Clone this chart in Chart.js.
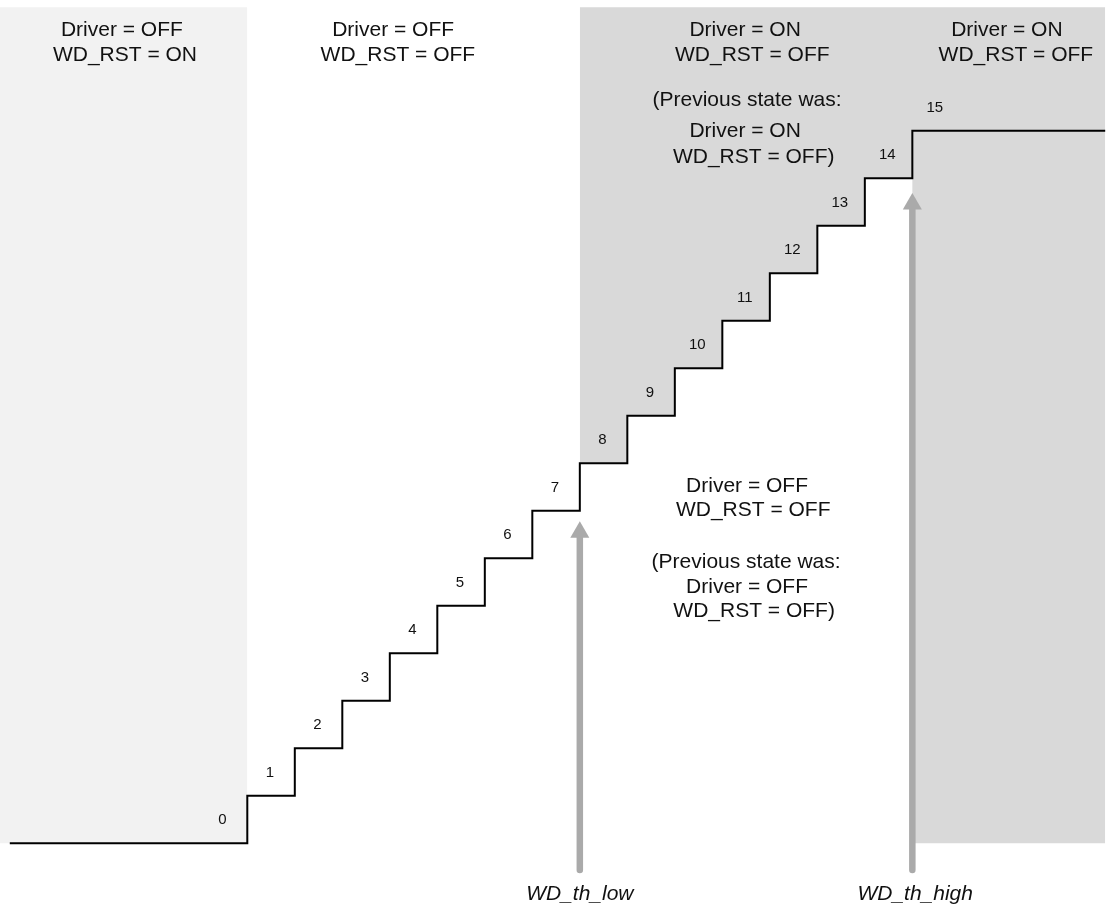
<!DOCTYPE html>
<html>
<head>
<meta charset="utf-8">
<title>WD counter states</title>
<script src="https://cdn.jsdelivr.net/npm/chart.js@4.4.1/dist/chart.umd.min.js"></script>
<style>
  html, body { margin: 0; padding: 0; background: #ffffff; }
  #chart { display: block; }
</style>
</head>
<body>
<canvas id="chart" width="1109" height="908"></canvas>
<script>
// counter levels and where each level starts (x in counter steps)
const levels = [0, 1, 2, 3, 4, 5, 6, 7, 8, 9, 10, 11, 12, 13, 14, 15];
const levelStart = [-4, 1, 2, 3, 4, 5, 6, 7, 8, 9, 10, 11, 12, 13, 14, 15];
const lineEnd = 19.06;
const levelLabels = ['0', '1', '2', '3', '4', '5', '6', '7', '8', '9', '10', '11', '12', '13', '14', '15'];

// thresholds
const thresholdNames = ['WD_th_low', 'WD_th_high'];
const thresholdX = [8, 15];
const thresholdLabelX = [8.0, 15.06];
const arrowHead = [6.55, 13.46];
const arrowFoot = -0.56;

// shaded areas
const areaTop = 17.6;
const lightAreaEnd = 1;
const darkAreaStart = 8;

// state texts: [text, x, y(baseline)]
const stateTexts = [
  ['Driver = OFF', -1.64, 17.0], ['WD_RST = ON', -1.575, 16.46],
  ['Driver = OFF', 4.07, 17.0], ['WD_RST = OFF', 4.17, 16.46],
  ['Driver = ON', 11.48, 17.0], ['WD_RST = OFF', 11.63, 16.46],
  ['(Previous state was:', 11.52, 15.52], ['Driver = ON', 11.48, 14.88], ['WD_RST = OFF)', 11.66, 14.33],
  ['Driver = ON', 16.99, 17.0], ['WD_RST = OFF', 17.18, 16.46],
  ['Driver = OFF', 11.52, 7.40], ['WD_RST = OFF', 11.65, 6.89],
  ['(Previous state was:', 11.5, 5.79], ['Driver = OFF', 11.52, 5.28], ['WD_RST = OFF)', 11.67, 4.77]
];

const xMin = -4.206, xMax = 19.14, yMin = -1.362, yMax = 17.754;

const stairs = levels.map((v, i) => ({ x: levelStart[i], y: v }));
stairs.push({ x: lineEnd, y: levels[levels.length - 1] });

// lower edge of the dark area follows the stairs, then drops to 0
const darkEdge = levels.filter(v => v >= darkAreaStart && v < 15).map(v => ({ x: levelStart[v], y: v }));
darkEdge.push({ x: levelStart[15], y: 0 });
darkEdge.push({ x: lineEnd, y: 0 });

const arrows = thresholdX.map((x, i) => ({
  data: [{ x: x, y: arrowFoot }, { x: x, y: arrowHead[i] }],
  showLine: true,
  borderColor: '#aaaaaa',
  borderWidth: 6.5,
  borderCapStyle: 'round',
  pointRadius: [0, 11],
  pointStyle: 'triangle',
  pointBackgroundColor: '#aaaaaa',
  pointBorderWidth: 0,
  order: 1
}));

const textPlugin = {
  id: 'texts',
  afterDatasetsDraw(chart) {
    const { ctx, scales: { x, y } } = chart;
    ctx.save();
    ctx.fillStyle = '#111111';
    ctx.textAlign = 'center';
    ctx.textBaseline = 'alphabetic';
    ctx.font = '21px "Liberation Sans", Arial, sans-serif';
    stateTexts.forEach(t => ctx.fillText(t[0], x.getPixelForValue(t[1]), y.getPixelForValue(t[2])));
    ctx.font = '15px "Liberation Sans", Arial, sans-serif';
    levels.forEach((v, i) => ctx.fillText(levelLabels[i], x.getPixelForValue(v + 0.474), y.getPixelForValue(v + 0.406)));
    ctx.font = 'italic 21px "Liberation Sans", Arial, sans-serif';
    thresholdNames.forEach((n, i) => ctx.fillText(n, x.getPixelForValue(thresholdLabelX[i]), y.getPixelForValue(-1.19)));
    ctx.restore();
  }
};

new Chart(document.getElementById('chart'), {
  type: 'scatter',
  data: {
    datasets: [
      {
        data: [{ x: xMin, y: areaTop }, { x: lightAreaEnd, y: areaTop }],
        showLine: true,
        borderWidth: 0,
        pointRadius: 0,
        fill: { value: 0 },
        backgroundColor: '#f2f2f2',
        order: 3
      },
      {
        data: darkEdge,
        showLine: true,
        stepped: 'before',
        borderWidth: 0,
        pointRadius: 0,
        fill: { value: areaTop },
        backgroundColor: '#d9d9d9',
        order: 3
      },
      {
        data: stairs,
        showLine: true,
        stepped: 'before',
        borderColor: '#000000',
        borderWidth: 2,
        pointRadius: 0,
        fill: false,
        order: 2
      },
      ...arrows
    ]
  },
  options: {
    responsive: false,
    animation: false,
    layout: { padding: 0, autoPadding: false },
    plugins: { legend: { display: false }, tooltip: { enabled: false } },
    scales: {
      x: { type: 'linear', min: xMin, max: xMax, display: false },
      y: { type: 'linear', min: yMin, max: yMax, display: false }
    }
  },
  plugins: [textPlugin]
});
</script>
</body>
</html>
